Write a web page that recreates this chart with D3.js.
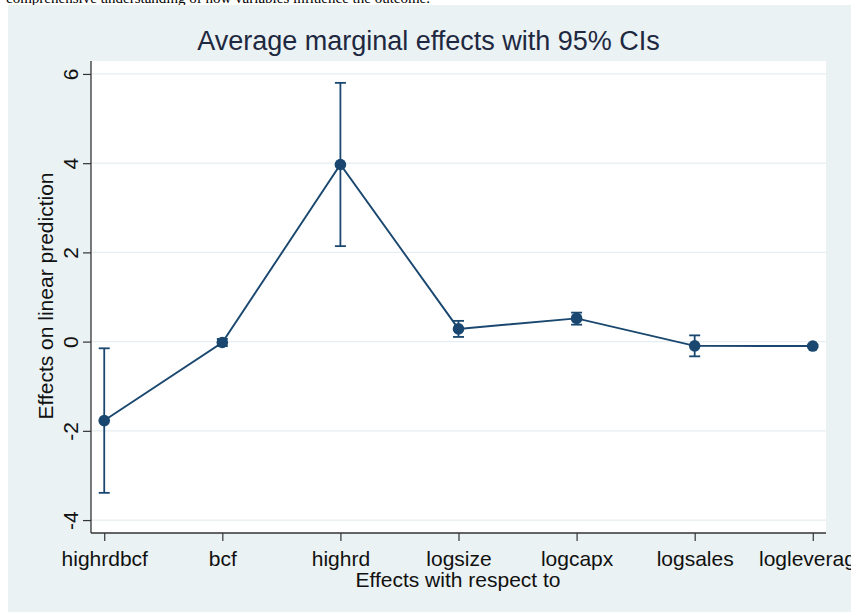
<!DOCTYPE html>
<html>
<head>
<meta charset="utf-8">
<script src="https://cdn.jsdelivr.net/npm/d3@7"></script>
<style>
  html, body { margin: 0; padding: 0; background: #ffffff; }
  svg { display: block; }
</style>
</head>
<body>
<svg id="chart" width="851" height="614"></svg>
<script>
// Marginal effects (dy/dx) with 95% confidence intervals
const categories = ["highrdbcf", "bcf", "highrd", "logsize", "logcapx", "logsales", "logleverage"];
const estimates  = [-1.77, -0.02, 3.97, 0.285, 0.52, -0.095, -0.10];
const ciLower    = [-3.39, -0.10, 2.14, 0.105, 0.38, -0.33, -0.13];
const ciUpper    = [-0.15,  0.06, 5.80, 0.465, 0.65,  0.14, -0.07];
const yTicks     = [-4, -2, 0, 2, 4, 6];

const titleText  = "Average marginal effects with 95% CIs";
const yTitle     = "Effects on linear prediction";
const xTitle     = "Effects with respect to";
const captionText = "comprehensive understanding of how variables influence the outcome.";

const W = 851, H = 614;
const plot = { left: 91, right: 826, top: 61, bottom: 533 };
const navy = "#1a476f";
const font = "'Liberation Sans', Arial, Helvetica, sans-serif";

const svg = d3.select("#chart");

// surrounding document text, cut off by the top edge
svg.append("text")
  .attr("x", 6).attr("y", 3.3)
  .attr("font-family", "'Liberation Serif', 'Times New Roman', serif")
  .attr("font-size", 15)
  .attr("fill", "#000")
  .text(captionText);

// graph region
svg.append("rect")
  .attr("x", 8).attr("y", 5)
  .attr("width", W - 8).attr("height", 607)
  .attr("fill", "#eaf2f3");

// plot region
svg.append("rect")
  .attr("x", plot.left).attr("y", plot.top)
  .attr("width", plot.right - plot.left).attr("height", plot.bottom - plot.top)
  .attr("fill", "#ffffff");

const x = d3.scalePoint()
  .domain(categories)
  .range([plot.left, plot.right])
  .padding(0.112);

const y = d3.scaleLinear()
  .domain([-4.29, 6.29])
  .range([plot.bottom, plot.top]);

// horizontal grid lines
svg.append("g")
  .selectAll("line")
  .data(yTicks)
  .join("line")
  .attr("x1", plot.left).attr("x2", plot.right)
  .attr("y1", d => y(d)).attr("y2", d => y(d))
  .attr("stroke", "#e6eef1")
  .attr("stroke-width", 1.2);

// y axis (plain hyphen for negative labels)
const yAxis = svg.append("g")
  .attr("transform", `translate(${plot.left},0)`)
  .call(d3.axisLeft(y).tickValues(yTicks).tickSize(8).tickSizeOuter(0).tickFormat(d => String(d)));
yAxis.select(".domain").attr("stroke", "#333").attr("stroke-width", 1.3).attr("d", `M0,${plot.top}V${plot.bottom}`);
yAxis.selectAll(".tick line").attr("stroke", "#333").attr("stroke-width", 1.2);
yAxis.selectAll(".tick text")
  .attr("font-family", font).attr("font-size", 21).attr("fill", "#111")
  .attr("x", null).attr("dy", null)
  .attr("transform", "translate(-13.5,0) rotate(-90)")
  .attr("text-anchor", "middle")
  .attr("dominant-baseline", "auto");

// x axis
const xAxis = svg.append("g")
  .attr("transform", `translate(0,${plot.bottom})`)
  .call(d3.axisBottom(x).tickSize(8).tickSizeOuter(0));
xAxis.select(".domain").attr("stroke", "#333").attr("stroke-width", 1.3).attr("d", `M${plot.left},0H${plot.right}`);
xAxis.selectAll(".tick line").attr("stroke", "#333").attr("stroke-width", 1.2);
xAxis.selectAll(".tick text")
  .attr("font-family", font).attr("font-size", 21).attr("fill", "#111")
  .attr("y", 33).attr("dy", null);

// confidence intervals
const ci = svg.append("g").attr("stroke", navy).attr("stroke-width", 1.8).attr("fill", "none");
categories.forEach((c, i) => {
  const cx = x(c);
  ci.append("line").attr("x1", cx).attr("x2", cx).attr("y1", y(ciLower[i])).attr("y2", y(ciUpper[i]));
  ci.append("line").attr("x1", cx - 5.5).attr("x2", cx + 5.5).attr("y1", y(ciLower[i])).attr("y2", y(ciLower[i]));
  ci.append("line").attr("x1", cx - 5.5).attr("x2", cx + 5.5).attr("y1", y(ciUpper[i])).attr("y2", y(ciUpper[i]));
});

// connecting line
const line = d3.line().x((d, i) => x(categories[i])).y(d => y(d));
svg.append("path")
  .datum(estimates)
  .attr("d", line)
  .attr("fill", "none")
  .attr("stroke", navy)
  .attr("stroke-width", 1.9);

// point estimates
svg.append("g")
  .selectAll("circle")
  .data(estimates)
  .join("circle")
  .attr("cx", (d, i) => x(categories[i]))
  .attr("cy", d => y(d))
  .attr("r", 5.8)
  .attr("fill", navy);

// titles
svg.append("text")
  .attr("x", 428.5).attr("y", 50)
  .attr("text-anchor", "middle")
  .attr("font-family", font).attr("font-size", 27)
  .attr("fill", "#1e2840")
  .text(titleText);

svg.append("text")
  .attr("transform", "translate(52.5,296) rotate(-90)")
  .attr("text-anchor", "middle")
  .attr("font-family", font).attr("font-size", 21)
  .attr("fill", "#111")
  .text(yTitle);

svg.append("text")
  .attr("x", 458).attr("y", 587)
  .attr("text-anchor", "middle")
  .attr("font-family", font).attr("font-size", 21)
  .attr("fill", "#111")
  .text(xTitle);
</script>
</body>
</html>
